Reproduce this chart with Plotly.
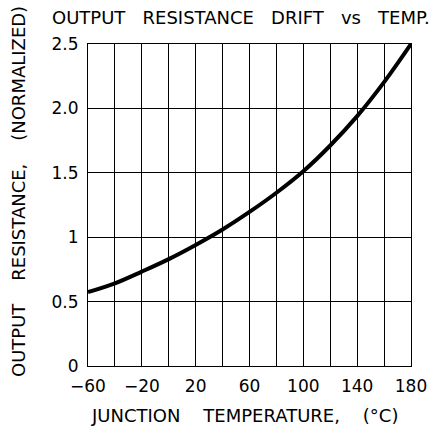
import plotly.graph_objects as go

temp_c = [-60, -40, -20, 0, 20, 40, 60, 80, 100, 120, 140, 160, 180]
resistance_norm = [0.574, 0.642, 0.733, 0.830, 0.940, 1.060, 1.196, 1.345, 1.512, 1.712, 1.940, 2.204, 2.5]

x_tickvals = [-60, -20, 20, 60, 100, 140, 180]
x_ticktext = ["\u221260", "\u221220", "20", "60", "100", "140", "180"]
x_gridvals = list(range(-60, 181, 20))
y_tickvals = [0, 0.5, 1, 1.5, 2.0, 2.5]
y_ticktext = ["0", "0.5", "1", "1.5", "2.0", "2.5"]

title_text = "OUTPUT RESISTANCE DRIFT vs TEMP."
x_title = "JUNCTION TEMPERATURE, (\u00b0C)"
y_title = "OUTPUT RESISTANCE, (NORMALIZED)"

FONT = "DejaVu Sans"


def widen(s, n):
    return s.replace(" ", "\u00a0" * n)


fig = go.Figure()
fig.add_trace(go.Scatter(
    x=temp_c, y=resistance_norm, mode="lines",
    line=dict(color="black", width=4, shape="spline", smoothing=1.0),
    showlegend=False, hoverinfo="skip",
))

fig.update_layout(
    width=439, height=434,
    margin=dict(l=88, r=28, t=44, b=68, pad=0),
    paper_bgcolor="white", plot_bgcolor="white",
    font=dict(family=FONT, size=17, color="black"),
    xaxis=dict(
        range=[-60, 180], tickmode="array", tickvals=x_tickvals, ticktext=x_ticktext,
        showgrid=True, gridcolor="black", gridwidth=1,
        minor=dict(tickmode="array", tickvals=x_gridvals, showgrid=True, gridcolor="black", gridwidth=1, ticks=""),
        showline=True, linecolor="black", linewidth=1, mirror=True,
        ticks="", ticklen=0, zeroline=False, automargin=False,
        ticklabelstandoff=5,
        tickfont=dict(family=FONT, size=17),
    ),
    yaxis=dict(
        range=[0, 2.5], tickmode="array", tickvals=y_tickvals, ticktext=y_ticktext,
        showgrid=True, gridcolor="black", gridwidth=1,
        showline=True, linecolor="black", linewidth=1, mirror=True,
        ticks="", ticklen=0, zeroline=False, automargin=False,
        ticklabelstandoff=5,
        tickfont=dict(family=FONT, size=17),
    ),
    annotations=[
        dict(text=widen(title_text, 3), xref="paper", yref="paper",
             x=(241 - 88) / 323, y=(366 - 17) / 322, xanchor="center", yanchor="middle",
             showarrow=False, font=dict(family=FONT, size=18)),
        dict(text=widen(x_title, 4), xref="paper", yref="paper",
             x=(244 - 88) / 323, y=(366 - 415) / 322, xanchor="center", yanchor="middle",
             showarrow=False, font=dict(family=FONT, size=18)),
        dict(text=widen(y_title, 4), xref="paper", yref="paper",
             x=(18 - 88) / 323, y=(366 - 192) / 322, xanchor="center", yanchor="middle",
             textangle=-90, showarrow=False, font=dict(family=FONT, size=18)),
    ],
)
fig.write_html("out.html", config={"displayModeBar": False},
               post_script="document.body.style.margin='0px';document.body.style.overflow='hidden';")
